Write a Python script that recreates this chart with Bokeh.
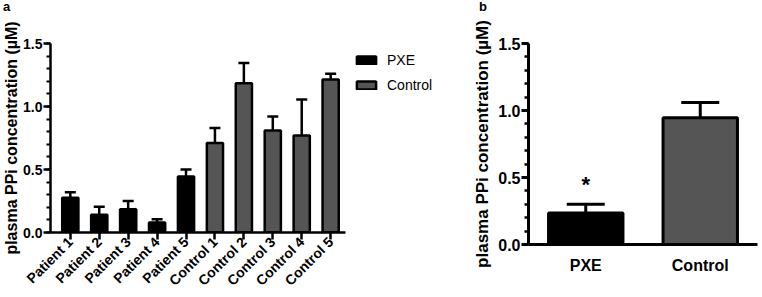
from bokeh.plotting import figure
from bokeh.models import (ColumnDataSource, FixedTicker, PrintfTickFormatter, Whisker,
                          TeeHead, Legend, LegendItem, FactorRange, Range1d, Div)
from bokeh.layouts import row, column
from bokeh.core.properties import value
from bokeh.embed import file_html
from bokeh.resources import INLINE

FONT = "Liberation Sans"

# ---------------- data: panel a ----------------
subjects = ["Patient 1", "Patient 2", "Patient 3", "Patient 4", "Patient 5",
            "Control 1", "Control 2", "Control 3", "Control 4", "Control 5"]
subject_group = ["PXE", "PXE", "PXE", "PXE", "PXE",
                 "Control", "Control", "Control", "Control", "Control"]
ppi_mean = [0.275, 0.14, 0.185, 0.08, 0.445, 0.71, 1.185, 0.81, 0.77, 1.215]
ppi_sem = [0.045, 0.065, 0.065, 0.025, 0.055, 0.12, 0.16, 0.11, 0.285, 0.045]

# ---------------- data: panel b ----------------
summary_groups = ["PXE", "Control"]
summary_mean = [0.235, 0.945]
summary_sem = [0.065, 0.114]
summary_sig = ["*", ""]

y_ticks = [0.0, 0.5, 1.0, 1.5]
y_label = "plasma PPi concentration (\u00b5M)"
panel_letters = ["a", "b"]

FILL = {"PXE": "#000000", "Control": "#555555"}


def style_axes(p, tick_size, label_size, lw):
    p.xgrid.visible = False
    p.ygrid.visible = False
    p.outline_line_color = None
    p.background_fill_color = "white"
    p.border_fill_color = "white"
    for ax in p.axis:
        ax.axis_line_width = lw
        ax.axis_line_color = "black"
        ax.major_tick_line_width = lw
        ax.major_tick_line_color = "black"
        ax.minor_tick_line_width = lw * 0.8
        ax.minor_tick_line_color = "black"
        ax.major_tick_in = 0
        ax.minor_tick_in = 0
        ax.major_label_text_font = FONT
        ax.major_label_text_font_style = "bold"
        ax.major_label_text_color = "black"
        ax.axis_label_text_font = FONT
        ax.axis_label_text_font_style = "bold"
        ax.axis_label_text_color = "black"
    p.yaxis.ticker = FixedTicker(ticks=y_ticks, minor_ticks=[i / 10 for i in range(16)])
    p.yaxis.formatter = PrintfTickFormatter(format="%.1f")
    p.yaxis.axis_label = y_label
    p.yaxis.major_tick_out = 7
    p.yaxis.minor_tick_out = 4
    p.yaxis.major_label_standoff = 1
    p.yaxis.major_label_text_font_size = tick_size
    p.yaxis.axis_label_text_font_size = label_size


def letter_strip(width, letter, pad):
    return Div(text=letter, width=width, height=16, margin=0,
               styles={"font-family": FONT, "font-weight": "bold", "font-size": "13px",
                       "line-height": "14px", "padding-left": f"{pad}px", "color": "black"})


# ---------------- panel a ----------------
xpos = list(range(len(subjects)))
pa = figure(width=470, height=281,
            x_range=Range1d(-0.685, 13.835),
            y_range=Range1d(0, 1.5),
            output_backend="svg", toolbar_location=None,
            min_border_left=46, min_border_right=0, min_border_top=27, min_border_bottom=64)

src_a = ColumnDataSource(dict(x=xpos, subject=subjects, group=subject_group, mean=ppi_mean,
                              color=[FILL[g] for g in subject_group],
                              upper=[m + s for m, s in zip(ppi_mean, ppi_sem)]))
bars_a = pa.vbar(x="x", top="mean", width=0.56, source=src_a,
                 fill_color="color", line_color="black", line_width=2.5)
pa.add_layout(Whisker(base="x", lower="mean", upper="upper", source=src_a,
                      dimension="height", line_width=2.5, line_color="black",
                      upper_head=TeeHead(size=11, line_width=2.5, line_color="black"),
                      lower_head=None, level="annotation"))

style_axes(pa, "14px", "16px", 2.5)
pa.yaxis.axis_label_standoff = 0
pa.xaxis.bounds = (-0.685, 9.51)
pa.xaxis.ticker = FixedTicker(ticks=xpos, minor_ticks=[])
pa.xaxis.major_label_overrides = {i: s for i, s in zip(xpos, subjects)}
pa.xaxis.major_label_orientation = 0.785398
pa.xaxis.major_tick_out = 7
pa.xaxis.minor_tick_out = 0
pa.xaxis.major_label_standoff = 0
pa.xaxis.major_label_text_font_size = "14px"

legend = Legend(items=[LegendItem(label="PXE", renderers=[bars_a], index=0),
                       LegendItem(label="Control", renderers=[bars_a], index=5)],
                location=(304, 139), padding=0, margin=0, spacing=9,
                glyph_width=24, glyph_height=10, label_height=10, label_standoff=9,
                border_line_color=None, background_fill_alpha=0,
                label_text_font=FONT, label_text_font_size="14px", label_text_color="black")
pa.add_layout(legend)

# ---------------- panel b ----------------
pb = figure(width=292, height=281,
            x_range=FactorRange(*summary_groups),
            y_range=Range1d(0, 1.5),
            output_backend="svg", toolbar_location=None,
            min_border_left=57, min_border_right=5, min_border_top=27, min_border_bottom=53)

src_b = ColumnDataSource(dict(group=summary_groups, mean=summary_mean,
                              upper=[m + s for m, s in zip(summary_mean, summary_sem)],
                              color=[FILL[g] for g in summary_groups],
                              sig=summary_sig,
                              sig_y=[m + s + 0.15 for m, s in zip(summary_mean, summary_sem)]))
pb.vbar(x="group", top="mean", width=0.65, source=src_b,
        fill_color="color", line_color="black", line_width=3)
pb.add_layout(Whisker(base="group", lower="mean", upper="upper", source=src_b,
                      dimension="height", line_width=3, line_color="black",
                      upper_head=TeeHead(size=38, line_width=3, line_color="black"),
                      lower_head=None, level="annotation"))
pb.text(x="group", y="sig_y", text="sig", source=src_b, text_font=value(FONT),
        text_font_style="bold", text_font_size="22px", text_align="center",
        text_baseline="middle", text_color="black")

style_axes(pb, "16px", "17px", 3)
pb.yaxis.axis_label_standoff = 3
pb.xaxis.major_tick_out = 0
pb.xaxis.major_label_standoff = 12
pb.xaxis.major_label_text_font_size = "16px"

layout = row(column(letter_strip(470, panel_letters[0], 3), pa),
             column(letter_strip(292, panel_letters[1], 9), pb))
open("out.html", "w").write(file_html(layout, INLINE))
